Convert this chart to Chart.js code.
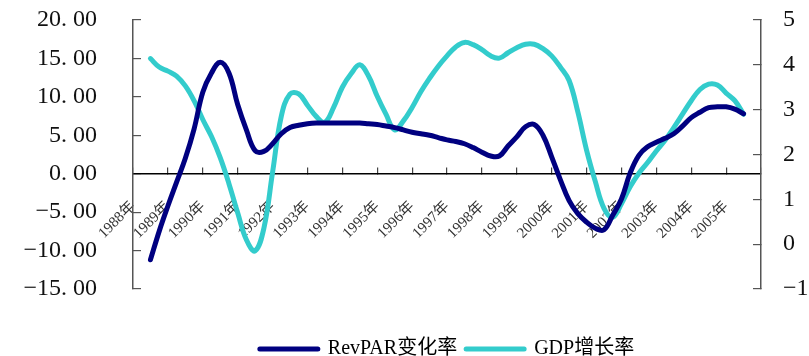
<!DOCTYPE html>
<html>
<head>
<meta charset="utf-8">
<script src="https://cdn.jsdelivr.net/npm/chart.js@4/dist/chart.umd.min.js"></script>
<style>
  html, body { margin: 0; padding: 0; background: #fff; }
  #wrap { width: 809px; height: 356px; position: relative; }
</style>
</head>
<body>
<div id="wrap"><canvas id="chart"></canvas></div>
<script>
// Quarterly observations, 1988Q3 – 2005Q3
const quarters = [
  '1988Q3','1988Q4',
  '1989Q1','1989Q2','1989Q3','1989Q4',
  '1990Q1','1990Q2','1990Q3','1990Q4',
  '1991Q1','1991Q2','1991Q3','1991Q4',
  '1992Q1','1992Q2','1992Q3','1992Q4',
  '1993Q1','1993Q2','1993Q3','1993Q4',
  '1994Q1','1994Q2','1994Q3','1994Q4',
  '1995Q1','1995Q2','1995Q3','1995Q4',
  '1996Q1','1996Q2','1996Q3','1996Q4',
  '1997Q1','1997Q2','1997Q3','1997Q4',
  '1998Q1','1998Q2','1998Q3','1998Q4',
  '1999Q1','1999Q2','1999Q3','1999Q4',
  '2000Q1','2000Q2','2000Q3','2000Q4',
  '2001Q1','2001Q2','2001Q3','2001Q4',
  '2002Q1','2002Q2','2002Q3','2002Q4',
  '2003Q1','2003Q2','2003Q3','2003Q4',
  '2004Q1','2004Q2','2004Q3','2004Q4',
  '2005Q1','2005Q2','2005Q3'
];

// RevPAR change (%), left axis
const revparChange = [
  -11.2, -7.5,
  -4.2, -1.1, 2.0, 5.8,
  10.6, 13.1, 14.5, 13.1,
  9.0, 5.7, 3.0, 2.9,
  3.9, 5.2, 6.0, 6.3,
  6.5, 6.6, 6.6, 6.6,
  6.6, 6.6, 6.6, 6.5,
  6.4, 6.2, 6.0, 5.7,
  5.4, 5.2, 5.0, 4.7,
  4.4, 4.2, 3.9, 3.4,
  2.8, 2.3, 2.3, 3.6,
  4.8, 6.1, 6.4, 5.0,
  2.2, -0.8, -3.5, -5.2,
  -6.3, -7.1, -7.3, -5.4,
  -3.3, 0.1, 2.4, 3.5,
  4.1, 4.6, 5.2, 6.2,
  7.3, 8.0, 8.6, 8.7,
  8.7, 8.4, 7.8
];

// GDP growth (%), right axis
const gdpGrowth = [
  4.14, 3.95,
  3.86, 3.75, 3.53, 3.20,
  2.78, 2.40, 1.93, 1.35,
  0.70, 0.10, -0.15, 0.35,
  1.60, 2.85, 3.35, 3.35,
  3.10, 2.85, 2.72, 3.05,
  3.50, 3.80, 4.00, 3.75,
  3.30, 2.90, 2.55, 2.75,
  3.05, 3.40, 3.70, 3.97,
  4.20, 4.40, 4.50, 4.45,
  4.34, 4.20, 4.15, 4.27,
  4.38, 4.46, 4.46, 4.36,
  4.20, 3.95, 3.65, 2.95,
  2.10, 1.40, 0.80, 0.60,
  0.90, 1.28, 1.58, 1.82,
  2.08, 2.32, 2.60, 2.90,
  3.20, 3.45, 3.57, 3.55,
  3.37, 3.20, 2.90
];

const yearLabels = [
  '1988年','1989年','1990年','1991年','1992年','1993年',
  '1994年','1995年','1996年','1997年','1998年','1999年',
  '2000年','2001年','2002年','2003年','2004年','2005年'
];

const seriesNames = ['RevPAR变化率', 'GDP增长率'];
const firstYear = 1988;

const FONT = "'Liberation Serif', 'Noto Sans CJK SC', serif";

function quarterPos(q) {
  const year = parseInt(q.slice(0, 4), 10);
  const n = parseInt(q.slice(5), 10);
  return year + (n - 1) / 4;
}

function toPoints(values) {
  return quarters.map((q, i) => ({ x: quarterPos(q), y: values[i] }));
}

function fmtLeft(v) {
  return v.toFixed(2).replace('-', '\u2212').replace('.', '. ');
}
function fmtRight(v) {
  return String(v).replace('-', '\u2212');
}

// value axes: fixed width, and keep the large label gap from padding the plot vertically
function fixAxis(width) {
  return (s) => {
    s.width = width;
    s.paddingTop = 0;
    s.paddingBottom = 0;
  };
}

const lineStyle = {
  borderWidth: 5,
  pointRadius: 0,
  pointHoverRadius: 0,
  tension: 0.4,
  borderCapStyle: 'round',
  borderJoinStyle: 'round',
  fill: false
};

new Chart(document.getElementById('chart'), {
  type: 'line',
  data: {
    datasets: [
      Object.assign({
        label: seriesNames[0],
        data: toPoints(revparChange),
        yAxisID: 'y',
        borderColor: '#000080',
        backgroundColor: '#000080'
      }, lineStyle),
      Object.assign({
        label: seriesNames[1],
        data: toPoints(gdpGrowth),
        yAxisID: 'y1',
        borderColor: '#33CCCC',
        backgroundColor: '#33CCCC'
      }, lineStyle)
    ]
  },
  options: {
    responsive: true,
    maintainAspectRatio: false,
    animation: false,
    events: [],
    layout: { padding: { left: 0, right: 0, top: 20, bottom: -13 } },
    plugins: {
      tooltip: { enabled: false },
      legend: {
        position: 'bottom',
        fullSize: false,
        title: {
          display: true,
          text: ' ',
          font: { size: 10 },
          padding: { top: 29, bottom: 0 }
        },
        labels: {
          boxWidth: 58,
          boxHeight: 0,
          padding: 9,
          color: '#000',
          font: { family: FONT, size: 20 }
        }
      }
    },
    scales: {
      x: {
        type: 'linear',
        position: { y: 0 },
        min: firstYear,
        max: firstYear + yearLabels.length,
        grid: { drawOnChartArea: false, drawTicks: true, tickLength: -7, color: '#444', lineWidth: 1.2 },
        border: { color: '#000', width: 1.5 },
        ticks: {
          stepSize: 1,
          autoSkip: false,
          minRotation: 45,
          maxRotation: 45,
          padding: 31,
          color: '#333',
          font: { family: FONT, size: 15 },
          callback: (v) => {
            const i = Math.round(v) - firstYear;
            return i >= 0 && i < yearLabels.length ? yearLabels[i] : '';
          }
        }
      },
      y: {
        position: 'left',
        min: -15,
        max: 20,
        grid: { drawOnChartArea: false, drawTicks: true, tickLength: -8, color: '#555', lineWidth: 1.2 },
        border: { color: '#555', width: 1.5 },
        ticks: {
          stepSize: 5,
          padding: 44,
          color: '#111',
          font: { family: FONT, size: 24 },
          callback: (v) => fmtLeft(v)
        },
        afterFit: fixAxis(133)
      },
      y1: {
        position: 'right',
        min: -1,
        max: 5,
        grid: { drawOnChartArea: false, drawTicks: true, tickLength: -8, color: '#555', lineWidth: 1.2 },
        border: { color: '#555', width: 1.5 },
        ticks: {
          stepSize: 1,
          padding: 30,
          color: '#111',
          font: { family: FONT, size: 24 },
          callback: (v) => fmtRight(v)
        },
        afterFit: fixAxis(48)
      }
    }
  }
});
</script>
</body>
</html>
